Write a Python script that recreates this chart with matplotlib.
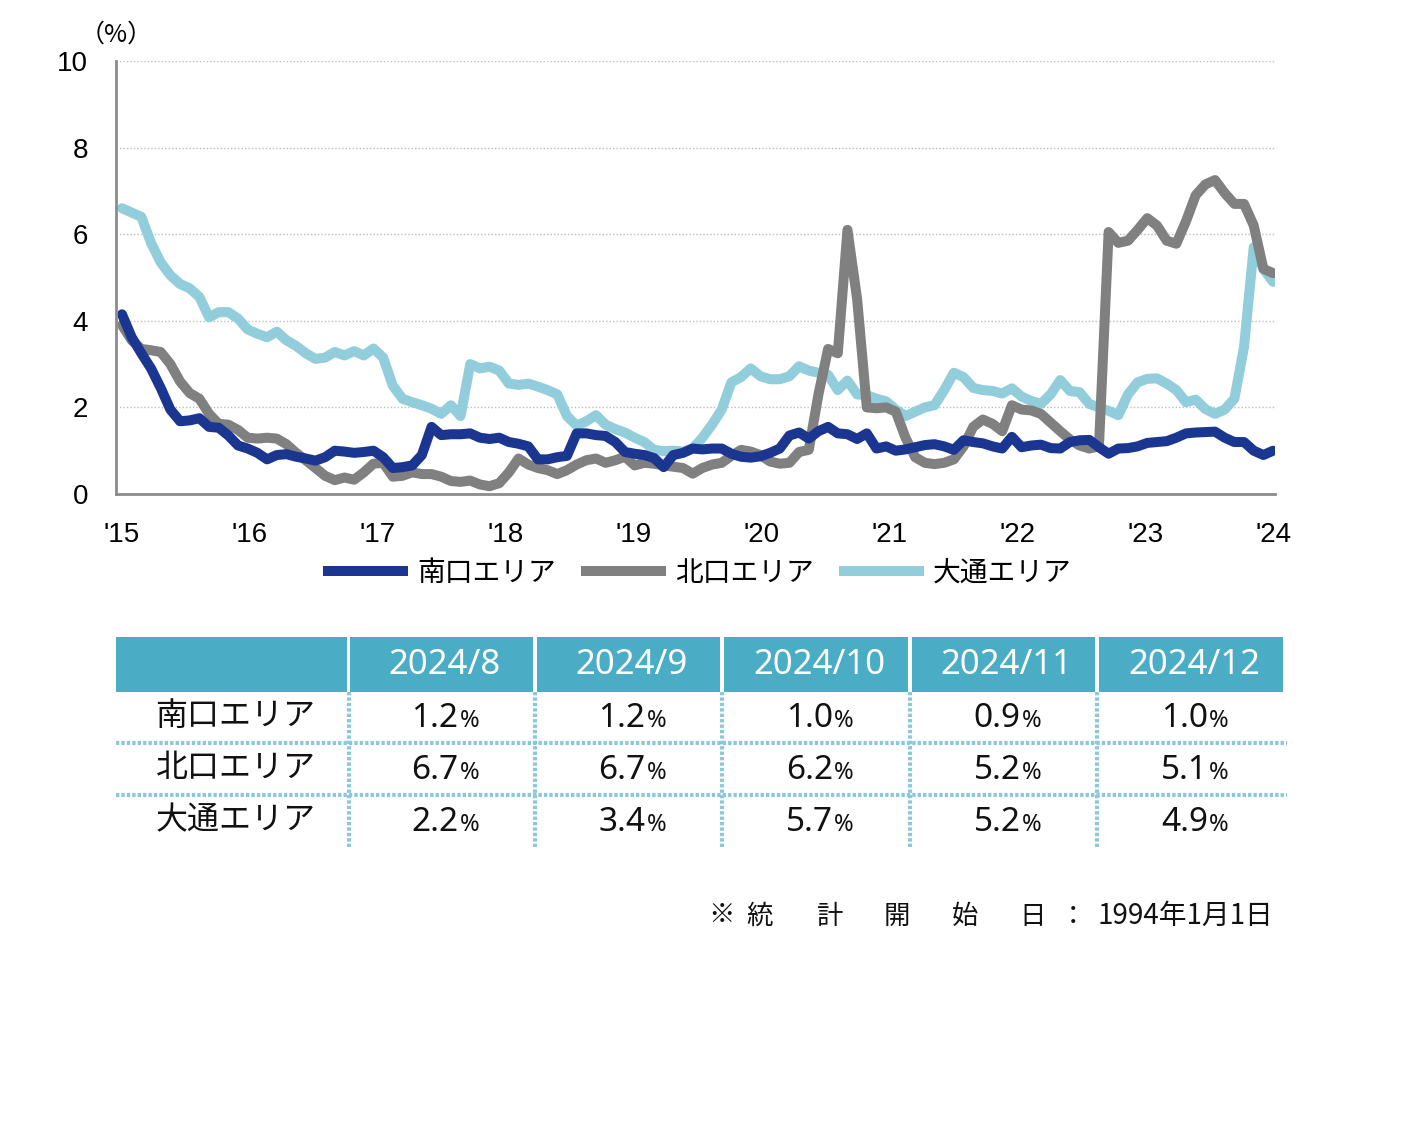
import matplotlib
matplotlib.use("Agg")
import matplotlib.pyplot as plt
from matplotlib.patches import Rectangle
from matplotlib.lines import Line2D

# ---------------- data ----------------
year_labels = ["'15", "'16", "'17", "'18", "'19", "'20", "'21", "'22", "'23", "'24"]
series_names = ["南口エリア", "北口エリア", "大通エリア"]
table_months = ["2024/8", "2024/9", "2024/10", "2024/11", "2024/12"]

south = [4.15, 3.62, 3.25, 2.9, 2.45, 1.95, 1.68, 1.7, 1.75, 1.55,
         1.53, 1.35, 1.12, 1.05, 0.95, 0.8, 0.9, 0.92, 0.86, 0.82,
         0.77, 0.85, 1.0, 0.98, 0.95, 0.97, 1.0, 0.85, 0.6, 0.62,
         0.66, 0.9, 1.55, 1.36, 1.38, 1.38, 1.4, 1.3, 1.27, 1.3,
         1.2, 1.16, 1.1, 0.8, 0.8, 0.85, 0.88, 1.4, 1.4, 1.36,
         1.34, 1.2, 0.97, 0.93, 0.9, 0.83, 0.62, 0.9, 0.95, 1.05,
         1.03, 1.05, 1.05, 0.93, 0.86, 0.84, 0.87, 0.95, 1.05, 1.35,
         1.42, 1.28, 1.45, 1.55, 1.4, 1.38, 1.27, 1.4, 1.05, 1.1,
         1.0, 1.03, 1.08, 1.13, 1.15, 1.1, 1.02, 1.24, 1.2, 1.17,
         1.1, 1.05, 1.32, 1.08, 1.12, 1.14, 1.06, 1.05, 1.2, 1.24,
         1.25, 1.08, 0.93, 1.05, 1.06, 1.1, 1.18, 1.2, 1.22, 1.3,
         1.4, 1.42, 1.43, 1.44, 1.3, 1.2, 1.2, 1.0, 0.9, 1.0]

north = [3.9, 3.55, 3.35, 3.32, 3.28, 3.0, 2.6, 2.33, 2.2, 1.85,
         1.62, 1.6, 1.48, 1.3, 1.28, 1.3, 1.28, 1.15, 0.95, 0.78,
         0.6, 0.42, 0.32, 0.38, 0.33, 0.5, 0.7, 0.72, 0.4, 0.42,
         0.5, 0.46, 0.46, 0.4, 0.3, 0.28, 0.31, 0.22, 0.18, 0.25,
         0.5, 0.82, 0.68, 0.6, 0.55, 0.46, 0.55, 0.68, 0.78, 0.82,
         0.72, 0.78, 0.86, 0.66, 0.72, 0.7, 0.66, 0.63, 0.6, 0.47,
         0.6, 0.68, 0.72, 0.88, 1.02, 0.98, 0.9, 0.75, 0.7, 0.72,
         0.97, 1.02, 2.3, 3.35, 3.25, 6.1, 4.5, 2.0, 1.98, 2.0,
         1.9, 1.3, 0.85, 0.72, 0.69, 0.72, 0.8, 1.1, 1.55, 1.72,
         1.62, 1.45, 2.05, 1.95, 1.93, 1.85, 1.65, 1.45, 1.26, 1.12,
         1.05, 1.1, 6.05, 5.8, 5.85, 6.1, 6.37, 6.2, 5.85, 5.78,
         6.3, 6.9, 7.15, 7.25, 6.95, 6.7, 6.7, 6.2, 5.2, 5.1]

odori = [6.6, 6.5, 6.4, 5.8, 5.35, 5.05, 4.85, 4.75, 4.55, 4.08,
         4.2, 4.2, 4.05, 3.8, 3.7, 3.62, 3.75, 3.55, 3.42, 3.25,
         3.12, 3.15, 3.28, 3.2, 3.3, 3.2, 3.36, 3.15, 2.5, 2.2,
         2.12, 2.05, 1.97, 1.85, 2.05, 1.8, 3.0, 2.9, 2.94, 2.85,
         2.55, 2.52, 2.55, 2.48, 2.4, 2.3, 1.8, 1.58, 1.68, 1.82,
         1.6, 1.5, 1.42, 1.3, 1.2, 1.02, 0.99, 1.0, 0.98, 1.05,
         1.3, 1.6, 1.95, 2.58, 2.7, 2.9, 2.72, 2.65, 2.65, 2.72,
         2.95, 2.85, 2.8, 2.75, 2.4, 2.62, 2.3, 2.28, 2.2, 2.14,
         1.95, 1.8, 1.9, 2.0, 2.05, 2.4, 2.8, 2.7, 2.45, 2.4,
         2.38, 2.32, 2.44, 2.25, 2.15, 2.08, 2.3, 2.63, 2.38, 2.35,
         2.08, 2.0, 1.92, 1.82, 2.3, 2.58, 2.66, 2.67, 2.55, 2.4,
         2.12, 2.18, 1.96, 1.85, 1.95, 2.2, 3.4, 5.7, 5.2, 4.9]

footnote_chars = ["※", "統", "計", "開", "始", "日", "："]
footnote_date = "1994年1月1日"

# ---------------- style ----------------
C_SOUTH = "#1B3690"
C_NORTH = "#808080"
C_ODORI = "#92CDDC"
C_HEAD = "#4BACC6"
C_SEP = "#8CC8DC"
JP = ["Noto Sans CJK JP", "DejaVu Sans"]
NUM = ["Liberation Sans Narrow", "Liberation Sans", "DejaVu Sans"]
TNUM = ["Noto Sans", "DejaVu Sans"]

W, H = 1404, 1148
fig = plt.figure(figsize=(W / 100, H / 100), dpi=100)
fig.patch.set_facecolor("white")


def fx(px):
    return px / W


def fy(py):
    return 1 - py / H


# ---------------- line chart ----------------
ax = fig.add_axes([fx(116), fy(494), fx(1275) - fx(116), fy(61) - fy(494)])
x = list(range(len(south)))
lw = 7.2
ax.plot(x, odori, color=C_ODORI, lw=lw, solid_joinstyle="round",
        solid_capstyle="round", zorder=3)
ax.plot(x, north, color=C_NORTH, lw=lw, solid_joinstyle="round",
        solid_capstyle="round", zorder=4)
ax.plot(x, south, color=C_SOUTH, lw=lw, solid_joinstyle="round",
        solid_capstyle="round", zorder=5)

n = len(south)
ax.set_xlim(-0.62, n - 1 + 0.2)
ax.set_ylim(0, 10)
ax.set_yticks([0, 2, 4, 6, 8, 10])
ax.set_yticklabels(["0", "2", "4", "6", "8", "10"], family=NUM, fontsize=20)
tick_pos = [(n - 1) * k / (len(year_labels) - 1) for k in range(len(year_labels))]
ax.set_xticks(tick_pos)
ax.set_xticklabels(year_labels, family=NUM, fontsize=20)
ax.tick_params(axis="both", length=0)
ax.tick_params(axis="y", pad=20)
ax.tick_params(axis="x", pad=20)
ax.yaxis.grid(True, linestyle=(0, (1, 1.5)), color="#BDBDBD", lw=1)
ax.set_axisbelow(True)
for s in ["top", "right"]:
    ax.spines[s].set_visible(False)
for s in ["left", "bottom"]:
    ax.spines[s].set_color("#8C8C8C")
    ax.spines[s].set_linewidth(2)
ax.spines["left"].set_zorder(6)
ax.spines["bottom"].set_zorder(6)

fig.text(fx(116), fy(35), "（%）", family=JP, fontsize=18, ha="center", va="center")

handles = [Line2D([], [], color=c, lw=lw) for c in (C_SOUTH, C_NORTH, C_ODORI)]
fig.legend(handles, series_names, loc="center", bbox_to_anchor=(fx(700), fy(573)),
           ncol=3, frameon=False, prop={"family": JP, "size": 20},
           handlelength=2.7, handletextpad=0.5, columnspacing=1.1)

# ---------------- table ----------------
tab = fig.add_axes([0, 0, 1, 1])
tab.set_xlim(0, W)
tab.set_ylim(H, 0)
tab.axis("off")

cols = [(116, 347), (350, 533), (537, 720), (724, 908), (912, 1095), (1099, 1283)]
head_top, head_bot = 637, 692
row_centers = [716, 768, 820]
for (a, b) in cols:
    tab.add_patch(Rectangle((a, head_top), b - a, head_bot - head_top,
                            facecolor=C_HEAD, edgecolor="none"))
for (a, b), m in zip(cols[1:], table_months):
    tab.text((a + b) / 2 + 3, (head_top + head_bot) / 2 + 1, m, color="white",
             family=TNUM, fontsize=25, ha="center", va="center")

for yy in (743, 795):
    tab.plot([116, 1287], [yy, yy], color=C_SEP, lw=3, linestyle=(0, (0.8, 0.5)))
for (a, b) in cols[:-1]:
    xx = b + 1.5
    tab.plot([xx, xx], [head_bot, 848], color=C_SEP, lw=3, linestyle=(0, (0.8, 0.5)))

table_series = [south, north, odori]
for name, ser, yc in zip(series_names, table_series, row_centers):
    tab.text((116 + 347) / 2 + 4, yc, name, family=JP, fontsize=23,
             ha="center", va="center", color="#111111")
    for (a, b), v in zip(cols[1:], ser[-5:]):
        xc = (a + b) / 2 + 17
        tab.text(xc, yc + 11, f"{v:.1f}", family=TNUM, fontsize=24,
                 ha="right", va="baseline", color="#111111")
        tab.text(xc + 1, yc + 11, "%", family=TNUM, fontsize=17,
                 ha="left", va="baseline", color="#111111")

# ---------------- footnote ----------------
foot_x = [722, 760, 830, 897, 965, 1033, 1073]
for ch, xx in zip(footnote_chars, foot_x):
    tab.text(xx, 916, ch, family=JP, fontsize=19, ha="center", va="center",
             color="#111111")
tab.text(1273, 916, footnote_date, family=JP, fontsize=20, ha="right",
         va="center", color="#111111")

fig.savefig("out.png", dpi=100, facecolor="white")
